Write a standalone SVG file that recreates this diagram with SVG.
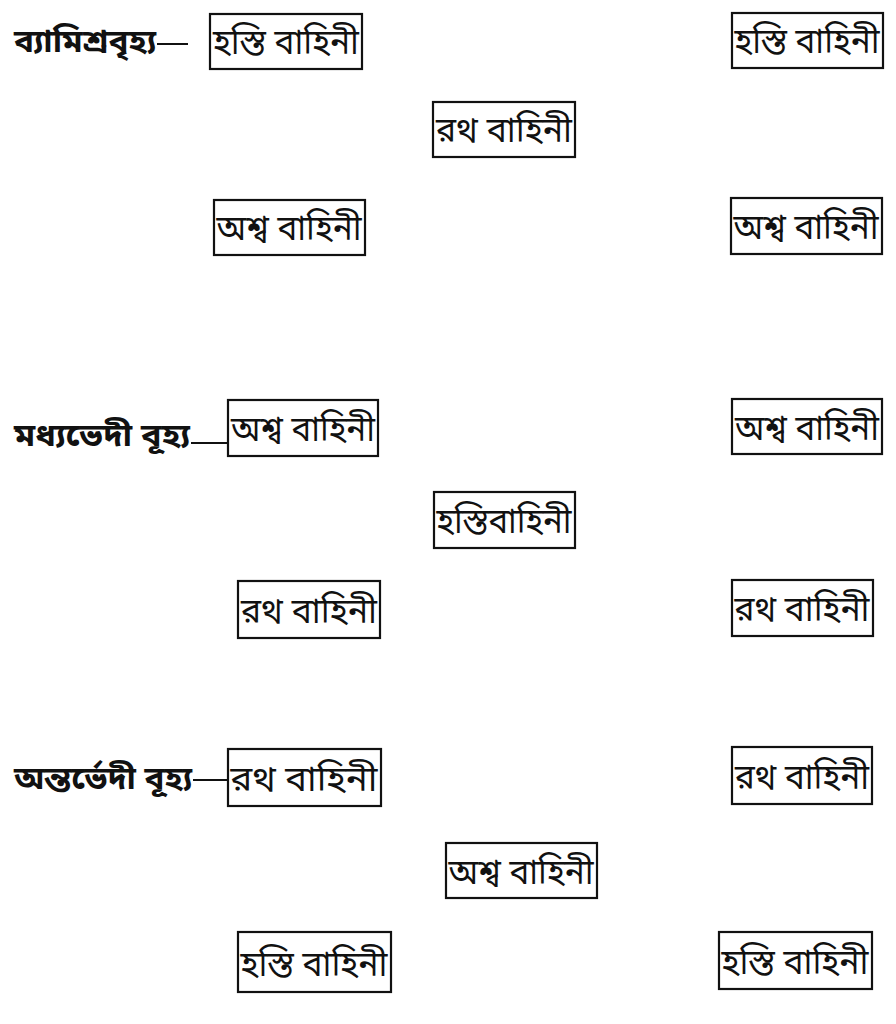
<svg xmlns="http://www.w3.org/2000/svg" width="896" height="1024" viewBox="0 0 896 1024">
<style>
.box{fill:#fff;stroke:#111;stroke-width:2.2}
.t{font-family:"Noto Sans Bengali","Noto Sans","DejaVu Sans",sans-serif;font-size:35px;fill:#111;text-anchor:middle}
.lab{font-family:"Noto Sans Bengali","Noto Sans","DejaVu Sans",sans-serif;font-size:31px;font-weight:bold;fill:#111}
.ln{stroke:#111;stroke-width:2}
</style>
<rect width="896" height="1024" fill="#fff"/>
<g id="connectors">
<line class="ln" x1="157" y1="44" x2="188" y2="44"/>
<line class="ln" x1="191" y1="443" x2="228" y2="443"/>
<line class="ln" x1="193" y1="780" x2="228" y2="780"/>
</g>
<g id="label1"><text class="lab" x="14" y="52" textLength="142" lengthAdjust="spacingAndGlyphs">ব্যামিশ্রবৃহ্য</text></g>
<g id="label2"><text class="lab" x="14" y="446" textLength="176" lengthAdjust="spacingAndGlyphs">মধ্যভেদী বূহ্য</text></g>
<g id="label3"><text class="lab" x="14" y="789" textLength="178" lengthAdjust="spacingAndGlyphs">অন্তর্ভেদী বূহ্য</text></g>

<g id="n1"><rect class="box" x="210" y="14" width="152" height="55"/><text class="t" x="286" y="54" textLength="146" lengthAdjust="spacingAndGlyphs">হস্তি বাহিনী</text></g>
<g id="n2"><rect class="box" x="732" y="13" width="151" height="55"/><text class="t" x="807" y="53" textLength="145" lengthAdjust="spacingAndGlyphs">হস্তি বাহিনী</text></g>
<g id="n3"><rect class="box" x="433" y="102" width="142" height="55"/><text class="t" x="504" y="142" textLength="136" lengthAdjust="spacingAndGlyphs">রথ বাহিনী</text></g>
<g id="n4"><rect class="box" x="214" y="200" width="151" height="55"/><text class="t" x="289" y="240" textLength="145" lengthAdjust="spacingAndGlyphs">অশ্ব বাহিনী</text></g>
<g id="n5"><rect class="box" x="731" y="198" width="151" height="56"/><text class="t" x="806" y="239" textLength="145" lengthAdjust="spacingAndGlyphs">অশ্ব বাহিনী</text></g>

<g id="n6"><rect class="box" x="228" y="400" width="150" height="56"/><text class="t" x="303" y="441" textLength="144" lengthAdjust="spacingAndGlyphs">অশ্ব বাহিনী</text></g>
<g id="n7"><rect class="box" x="732" y="399" width="150" height="55"/><text class="t" x="807" y="440" textLength="144" lengthAdjust="spacingAndGlyphs">অশ্ব বাহিনী</text></g>
<g id="n8"><rect class="box" x="434" y="492" width="141" height="56"/><text class="t" x="504" y="533" textLength="135" lengthAdjust="spacingAndGlyphs">হস্তিবাহিনী</text></g>
<g id="n9"><rect class="box" x="238" y="581" width="142" height="57"/><text class="t" x="309" y="623" textLength="136" lengthAdjust="spacingAndGlyphs">রথ বাহিনী</text></g>
<g id="n10"><rect class="box" x="732" y="580" width="141" height="56"/><text class="t" x="802" y="621" textLength="135" lengthAdjust="spacingAndGlyphs">রথ বাহিনী</text></g>

<g id="n11"><rect class="box" x="228" y="749" width="153" height="57"/><text class="t" x="304" y="791" textLength="147" lengthAdjust="spacingAndGlyphs">রথ বাহিনী</text></g>
<g id="n12"><rect class="box" x="732" y="747" width="140" height="57"/><text class="t" x="802" y="789" textLength="134" lengthAdjust="spacingAndGlyphs">রথ বাহিনী</text></g>
<g id="n13"><rect class="box" x="446" y="843" width="151" height="55"/><text class="t" x="521" y="884" textLength="145" lengthAdjust="spacingAndGlyphs">অশ্ব বাহিনী</text></g>
<g id="n14"><rect class="box" x="238" y="932" width="153" height="60"/><text class="t" x="314" y="976" textLength="147" lengthAdjust="spacingAndGlyphs">হস্তি বাহিনী</text></g>
<g id="n15"><rect class="box" x="719" y="932" width="153" height="57"/><text class="t" x="795" y="974" textLength="147" lengthAdjust="spacingAndGlyphs">হস্তি বাহিনী</text></g>
</svg>
